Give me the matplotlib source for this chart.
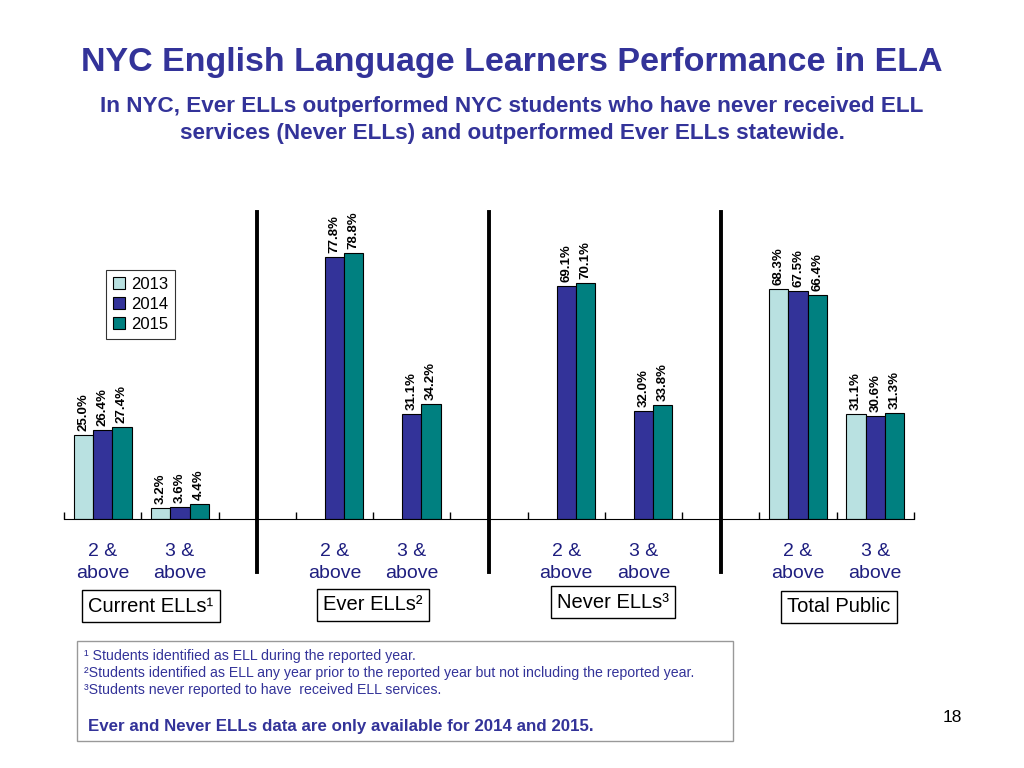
import matplotlib.pyplot as plt
import numpy as np
from matplotlib.patches import Rectangle

plt.rcParams['font.family'] = ['Liberation Sans', 'DejaVu Sans']

# 11 slots: 4 groups x 2 levels, with empty slots between groups
slot_labels = ["2 &\nabove", "3 &\nabove", "", "2 &\nabove", "3 &\nabove", "",
               "2 &\nabove", "3 &\nabove", "", "2 &\nabove", "3 &\nabove"]
years = ["2013", "2014", "2015"]
nan = np.nan
vals_2013 = [25.0, 3.2, nan, nan, nan, nan, nan, nan, nan, 68.3, 31.1]
vals_2014 = [26.4, 3.6, nan, 77.8, 31.1, nan, 69.1, 32.0, nan, 67.5, 30.6]
vals_2015 = [27.4, 4.4, nan, 78.8, 34.2, nan, 70.1, 33.8, nan, 66.4, 31.3]
group_names = ["Current ELLs¹", "Ever ELLs²", "Never ELLs³", "Total Public"]
colors = ["#B9E1E1", "#333399", "#008080"]

fig = plt.figure(figsize=(10.24, 7.68), dpi=100)
ax = fig.add_axes([0.0625, 0.3242, 0.83, 0.439])

x = np.arange(len(slot_labels))
w = 0.25
for i, (vals, c, yr) in enumerate(zip([vals_2013, vals_2014, vals_2015], colors, years)):
    xs = x + (i - 1) * w
    ax.bar(xs, vals, width=w, color=c, edgecolor="black", linewidth=0.8, label=yr)
    for xi, v in zip(xs, vals):
        if not np.isnan(v):
            ax.text(xi, v + 1.2, f"{v:.1f}%", rotation=90, ha="center", va="bottom",
                    fontsize=9.5, fontweight="bold")

ax.set_xlim(-0.5, len(slot_labels) - 0.5)
ax.set_ylim(0, 100)
for s in ["top", "left", "right"]:
    ax.spines[s].set_visible(False)
ax.set_yticks([])
ax.set_xticks(np.arange(-0.5, len(slot_labels)), labels=[])
ax.tick_params(axis="x", which="major", direction="in", length=5, width=1)
ax.set_xticks(x, labels=slot_labels, minor=True)
ax.tick_params(axis="x", which="minor", length=0, pad=17, labelsize=14, labelcolor="#1F1F80")
for lab in ax.get_xticklabels(minor=True):
    lab.set_linespacing(1.4)

# separators between groups
for sx in [2, 5, 8]:
    ax.plot([sx, sx], [91, -15.7], color="black", lw=2.8, clip_on=False)

leg = ax.legend(loc="upper left", bbox_to_anchor=(0.04, 0.762), fontsize=12,
                frameon=True, fancybox=False, edgecolor="black", handlelength=0.7,
                handleheight=0.7, handletextpad=0.4, labelspacing=0.3, borderpad=0.4)
leg.get_frame().set_linewidth(0.8)

fig.text(0.5, 1 - 62 / 768, "NYC English Language Learners Performance in ELA", ha="center",
         va="center", fontsize=24.5, fontweight="bold", color="#333399")
fig.text(0.5, 1 - 120 / 768, "In NYC, Ever ELLs outperformed NYC students who have never received ELL\n"
         "services (Never ELLs) and outperformed Ever ELLs statewide.", ha="center",
         va="center", fontsize=16.2, fontweight="bold", color="#333399", linespacing=1.32)

# group boxes
box_pos = [(151, 606), (373, 605), (613, 602), (839, 607)]
for name, (bx, by) in zip(group_names, box_pos):
    fig.text(bx / 1024, 1 - by / 768, name, ha="center", va="center", fontsize=14.5,
             bbox=dict(boxstyle="square,pad=0.3", fc="white", ec="black", lw=1))

# footnote box
fig.patches.append(Rectangle((77 / 1024, 1 - 741 / 768), 656 / 1024, 100 / 768,
                             transform=fig.transFigure, fill=False, ec="#999999", lw=1))
notes = ["¹ Students identified as ELL during the reported year.",
         "²Students identified as ELL any year prior to the reported year but not including the reported year.",
         "³Students never reported to have  received ELL services."]
for k, n in enumerate(notes):
    fig.text(84 / 1024, 1 - (656 + 17 * k) / 768, n, ha="left", va="center",
             fontsize=10.2, color="#333399")
fig.text(88 / 1024, 1 - 726 / 768, "Ever and Never ELLs data are only available for 2014 and 2015.",
         ha="left", va="center", fontsize=12.2, fontweight="bold", color="#333399")
fig.text(952 / 1024, 1 - 718 / 768, "18", ha="center", va="center", fontsize=12.5)

fig.savefig("out.png", dpi=100)
